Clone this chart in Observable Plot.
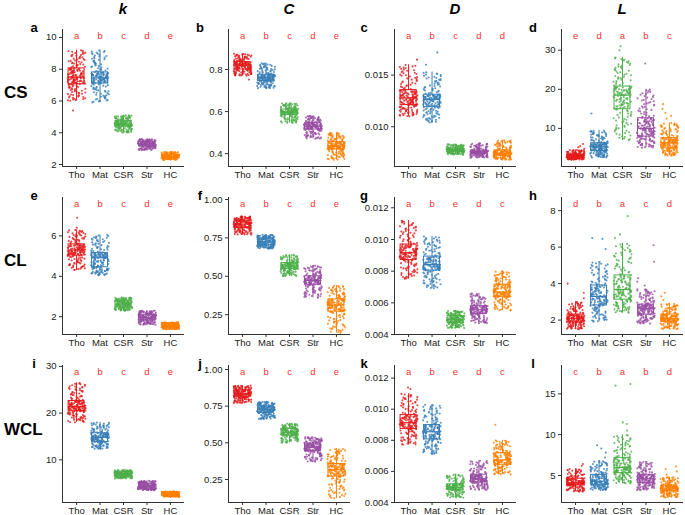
<!DOCTYPE html>
<html><head><meta charset="utf-8">
<script src="https://cdn.jsdelivr.net/npm/d3@7"></script>
<script src="https://cdn.jsdelivr.net/npm/@observablehq/plot@0.6"></script>
<style>
body{margin:0;background:#fff;font-family:"Liberation Sans",Arial,sans-serif}
#root{position:relative;width:685px;height:515px;overflow:hidden;background:#fff}
.abs{position:absolute;white-space:nowrap;color:#000}
.hdr{font-size:15px;font-weight:bold;font-style:italic;transform:translate(-50%,-50%)}
.row{font-size:17px;font-weight:bold;transform:translate(0,-50%)}
.let{font-size:13px;font-weight:bold;line-height:13px;transform:translate(-50%,-50%)}
</style></head>
<body><div id="root"></div>
<script>
const groups = ["Tho","Mat","CSR","Str","HC"];
const colors = ["#E41A1C","#377EB8","#4DAF4A","#984EA3","#FF7F00"];
const measures = ["k","C","D","L"];
const conditions = ["CS","CL","WCL"];
const panelLetters = ["a","b","c","d","e","f","g","h","i","j","k","l"];

// per group: [lower whisker, Q1, median, Q3, upper whisker]
const statsA = [[6.0,7.05,7.5,8.05,9.2],[5.9,7.1,7.45,7.8,9.2],[4.0,4.4,4.55,4.75,5.1],[2.9,3.15,3.28,3.4,3.6],[2.3,2.42,2.5,2.6,2.8]];
const statsB = [[0.77,0.80,0.82,0.835,0.875],[0.71,0.745,0.76,0.775,0.83],[0.545,0.585,0.597,0.61,0.64],[0.47,0.515,0.53,0.545,0.58],[0.37,0.42,0.435,0.455,0.50]];
const statsC = [[0.0110,0.0121,0.0128,0.01355,0.0160],[0.0104,0.0119,0.01265,0.0131,0.0153],[0.0073,0.0076,0.00775,0.0079,0.0083],[0.0070,0.0074,0.00755,0.0077,0.0084],[0.0068,0.0072,0.00745,0.0077,0.0087]];
const statsD = [[2.0,2.5,3.0,3.3,4.5],[2.5,4.2,5.3,6.2,9.5],[6.9,14.9,18.5,20.7,28.2],[5.0,7.9,10.0,12.6,20.0],[3.0,4.9,6.3,7.5,11.4]];
const statsE = [[4.3,5.03,5.3,5.58,6.3],[4.05,4.45,4.92,5.15,6.05],[2.3,2.47,2.63,2.77,2.95],[1.6,1.82,1.97,2.1,2.3],[1.38,1.47,1.55,1.65,1.72]];
const statsF = [[0.77,0.815,0.84,0.863,0.89],[0.68,0.702,0.724,0.745,0.77],[0.50,0.547,0.567,0.586,0.64],[0.36,0.445,0.473,0.50,0.57],[0.13,0.27,0.313,0.35,0.44]];
const statsG = [[0.0075,0.0087,0.00916,0.00968,0.0112],[0.0069,0.00804,0.00842,0.00892,0.0102],[0.0044,0.00473,0.00494,0.00516,0.0055],[0.0047,0.0053,0.00556,0.00579,0.0066],[0.0055,0.00636,0.00668,0.00714,0.0080]];
const statsH = [[1.5,1.87,2.1,2.3,3.0],[1.9,2.8,3.3,3.9,5.2],[2.4,3.12,3.68,4.45,6.2],[1.8,2.3,2.63,2.85,3.7],[1.5,1.9,2.07,2.3,2.9]];
const statsI = [[18.0,20.4,21.4,22.6,26.5],[12.3,13.8,14.8,15.7,18.0],[6.0,6.5,6.9,7.35,7.8],[3.5,3.93,4.36,4.86,5.5],[2.1,2.3,2.64,3.0,3.2]];
const statsJ = [[0.77,0.811,0.834,0.857,0.89],[0.66,0.705,0.727,0.748,0.78],[0.50,0.55,0.572,0.595,0.63],[0.37,0.443,0.47,0.495,0.54],[0.12,0.27,0.317,0.356,0.46]];
const statsK = [[0.0077,0.00872,0.00913,0.00962,0.0110],[0.0071,0.00806,0.00855,0.00898,0.0103],[0.0043,0.00479,0.00498,0.00517,0.0058],[0.0048,0.0053,0.00553,0.00579,0.0067],[0.0058,0.00643,0.00674,0.00717,0.0080]];
const statsL = [[3.0,3.8,4.1,4.6,5.8],[3.2,3.86,4.3,5.08,6.8],[4.0,5.29,5.98,7.16,10.0],[3.2,4.06,4.6,5.08,6.7],[2.3,3.08,3.45,3.78,4.8]];

// outlying points: [group index, value]
const outA = [[0,5.4]];
const outB = [[0,0.752]];
const outC = [[0,0.0165],[1,0.0172],[1,0.0160]];
const outD = [[0,4.8],[0,5.2],[0,5.5],[0,6.0],[1,13.8],[2,30.0],[2,31.0],[3,26.6],[4,12.5],[4,13.2],[4,14.0],[4,15.0],[4,16.2]];
const outE = [[0,6.4],[0,6.9]];
const outF = [];
const outG = [];
const outH = [[0,3.2],[0,3.5],[0,4.0],[1,5.9],[1,6.5],[1,6.45],[2,6.5],[2,6.7],[2,7.7],[3,3.9],[3,4.1],[3,4.3],[3,5.2],[3,6.1],[4,3.1],[4,3.3],[4,3.5]];
const outI = [];
const outJ = [];
const outK = [[0,0.0113],[0,0.0114],[4,0.0090]];
const outL = [[0,6.2],[0,6.4],[1,7.2],[1,7.8],[1,8.3],[1,8.7],[2,10.5],[2,11.3],[2,11.5],[2,16.0],[2,16.2],[4,5.1],[4,5.5],[4,5.8],[4,6.1]];

// significance letters
const sigA = ["a","b","c","d","e"], sigB = ["a","b","c","d","e"], sigC = ["a","b","c","d","d"], sigD = ["e","d","a","b","c"];
const sigE = ["a","b","c","d","e"], sigF = ["a","b","c","d","e"], sigG = ["a","b","e","d","c"], sigH = ["d","b","a","c","d"];
const sigI = ["a","b","c","d","e"], sigJ = ["a","b","c","d","e"], sigK = ["a","b","e","d","c"], sigL = ["c","b","a","b","d"];

// y tick values and labels
const ticksA = [2,4,6,8,10], labelsA = ["2","4","6","8","10"];
const ticksB = [0.4,0.6,0.8], labelsB = ["0.4","0.6","0.8"];
const ticksC = [0.010,0.015], labelsC = ["0.010","0.015"];
const ticksD = [10,20,30], labelsD = ["10","20","30"];
const ticksE = [2,4,6], labelsE = ["2","4","6"];
const ticksF = [0.25,0.5,0.75,1], labelsF = ["0.25","0.50","0.75","1.00"];
const ticksG = [0.004,0.006,0.008,0.010,0.012], labelsG = ["0.004","0.006","0.008","0.010","0.012"];
const ticksH = [2,4,6,8], labelsH = ["2","4","6","8"];
const ticksI = [10,20,30], labelsI = ["10","20","30"];
const ticksJ = [0.25,0.5,0.75,1], labelsJ = ["0.25","0.50","0.75","1.00"];
const ticksK = [0.004,0.006,0.008,0.010,0.012], labelsK = ["0.004","0.006","0.008","0.010","0.012"];
const ticksL = [5,10,15], labelsL = ["5","10","15"];

const panels = [
  {stats:statsA,out:outA,sig:sigA,ticks:ticksA,labels:labelsA,dom:[1.875,10.5]},
  {stats:statsB,out:outB,sig:sigB,ticks:ticksB,labels:labelsB,dom:[0.339,0.99]},
  {stats:statsC,out:outC,sig:sigC,ticks:ticksC,labels:labelsC,dom:[0.00615,0.01942]},
  {stats:statsD,out:outD,sig:sigD,ticks:ticksD,labels:labelsD,dom:[0.25,35.3]},
  {stats:statsE,out:outE,sig:sigE,ticks:ticksE,labels:labelsE,dom:[1.12,7.9]},
  {stats:statsF,out:outF,sig:sigF,ticks:ticksF,labels:labelsF,dom:[0.121,1.013]},
  {stats:statsG,out:outG,sig:sigG,ticks:ticksG,labels:labelsG,dom:[0.0040,0.01265]},
  {stats:statsH,out:outH,sig:sigH,ticks:ticksH,labels:labelsH,dom:[1.21,8.72]},
  {stats:statsI,out:outI,sig:sigI,ticks:ticksI,labels:labelsI,dom:[0.86,30.2]},
  {stats:statsJ,out:outJ,sig:sigJ,ticks:ticksJ,labels:labelsJ,dom:[0.093,1.027]},
  {stats:statsK,out:outK,sig:sigK,ticks:ticksK,labels:labelsK,dom:[0.0040,0.01281]},
  {stats:statsL,out:outL,sig:sigL,ticks:ticksL,labels:labelsL,dom:[1.69,18.47]}
];

// layout
const frameLefts = [62,228,394,561];
const frameTops = [28.5,196.5,365];
const FW = 122, FH = 137, mL = 44, mR = 2, mT = 2, mB = 20;
const NPTS = 160;
const xDom = [-0.6, 4.6];

function hash(n){ const s = Math.sin(n*12.9898 + 3.7)*43758.5453; return s - Math.floor(s); }
function quant(st, p){
  const ps=[0,.25,.5,.75,1];
  for(let j=0;j<4;j++){ if(p<=ps[j+1]){ const t=(p-ps[j])/(ps[j+1]-ps[j]); return st[j]+t*(st[j+1]-st[j]); } }
  return st[4];
}

const root = document.getElementById("root");
function addText(cls, txt, x, y){
  const d=document.createElement("div"); d.className="abs "+cls; d.textContent=txt;
  d.style.left=x+"px"; d.style.top=y+"px"; root.appendChild(d);
}

panels.forEach((P, pi) => {
  const r = Math.floor(pi/4), c = pi%4;
  const boxes = P.stats.map((s,g)=>({g, grp:groups[g], lo:s[0], q1:s[1], med:s[2], q3:s[3], hi:s[4]}));
  const pts = [];
  P.stats.forEach((s,g)=>{
    for(let i=0;i<NPTS;i++){
      pts.push({grp:groups[g], x: g + (hash(i*7.13 + g*1013 + pi*17011)-0.5)*0.76, y: quant(s,(i+0.5)/NPTS)});
    }
  });
  P.out.forEach(([g,v],k)=>pts.push({grp:groups[g], x: g + (hash(k*3.1+g*51+pi*977+0.5)-0.5)*0.76, y:v}));
  const sigData = P.sig.map((s,g)=>({g, s}));

  const chart = Plot.plot({
    width: mL+FW+mR, height: mT+FH+mB,
    marginLeft: mL, marginRight: mR, marginTop: mT, marginBottom: mB,
    x: {type:"linear", domain: xDom},
    y: {domain: P.dom},
    color: {domain: groups, range: colors},
    style: {fontFamily: "Liberation Sans, Arial, sans-serif", fontSize: "9.5px", color: "#1a1a1a", background: "transparent", overflow: "visible"},
    marks: [
      Plot.dot(pts, {x:"x", y:"y", fill:"grp", r:1.05, fillOpacity:0.8, stroke:null}),
      Plot.ruleX(boxes, {x:"g", y1:"lo", y2:"q1", stroke:"grp", strokeWidth:1}),
      Plot.ruleX(boxes, {x:"g", y1:"q3", y2:"hi", stroke:"grp", strokeWidth:1}),
      Plot.rect(boxes, {x1: d=>d.g-0.34, x2: d=>d.g+0.34, y1:"q1", y2:"q3", stroke:"grp", fill:"none", strokeWidth:1}),
      Plot.ruleY(boxes, {y:"med", x1: d=>d.g-0.34, x2: d=>d.g+0.34, stroke:"grp", strokeWidth:1.2}),
      Plot.text(sigData, {x:"g", text:"s", frameAnchor:"top", dy:6.5, fill:"#ff3030", fontSize:9.5, lineAnchor:"middle"}),
      Plot.ruleX([xDom[0]], {stroke:"#333", strokeWidth:1}),
      Plot.ruleY([P.dom[0]], {stroke:"#333", strokeWidth:1}),
      Plot.axisY({ticks:P.ticks, tickFormat: d=>P.labels[P.ticks.indexOf(d)], tickSize:3, tickPadding:3, fontSize:9.5, label:null, stroke:"#333"}),
      Plot.axisX({ticks:[0,1,2,3,4], tickFormat: d=>groups[d], tickSize:3, tickPadding:2, fontSize:9.5, label:null, stroke:"#333"})
    ]
  });
  const wrap = document.createElement("div");
  wrap.className="abs";
  wrap.style.left=(frameLefts[c]-mL)+"px"; wrap.style.top=(frameTops[r]-mT)+"px";
  wrap.appendChild(chart);
  root.appendChild(wrap);

  addText("let", panelLetters[pi], frameLefts[c]-(c===2?30:28), frameTops[r]-2);
});

measures.forEach((m,c)=> addText("hdr", m, frameLefts[c]+FW/2, 8));
conditions.forEach((cn,r)=> addText("row", cn, 4, frameTops[r]+FH/2 - 4));
</script>
</body></html>
